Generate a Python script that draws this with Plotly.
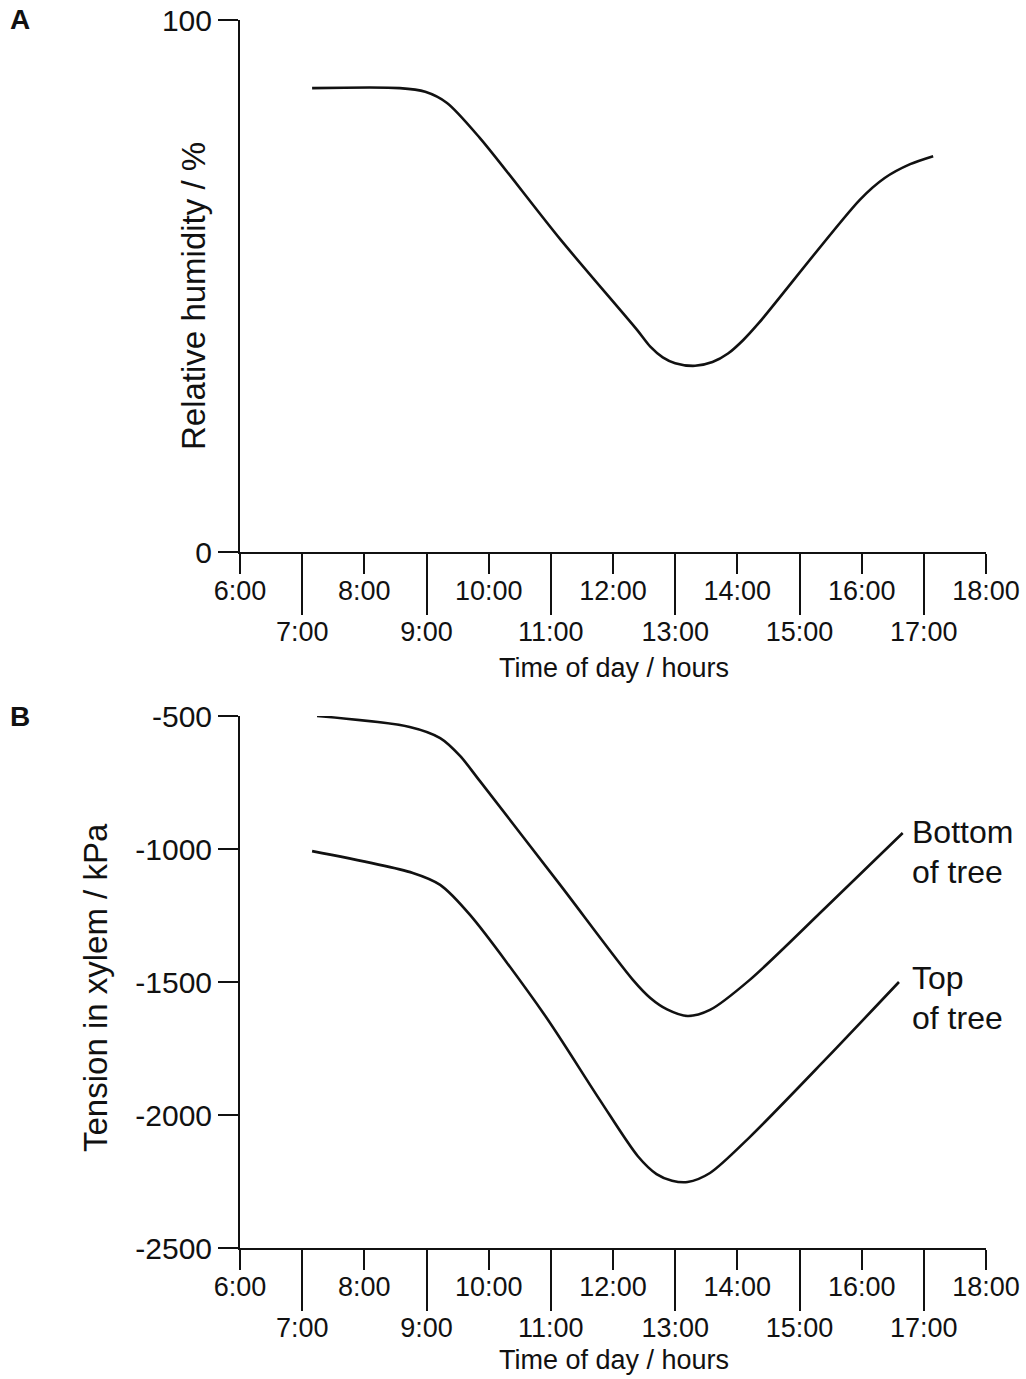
import plotly.graph_objects as go

W, H = 1026, 1379

# ---------- data ----------
hours_even = [6, 8, 10, 12, 14, 16, 18]
hours_odd = [7, 9, 11, 13, 15, 17]
labels_even = ["6:00", "8:00", "10:00", "12:00", "14:00", "16:00", "18:00"]
labels_odd = ["7:00", "9:00", "11:00", "13:00", "15:00", "17:00"]

rh_hours = [7.16, 8.57, 8.98, 9.33, 9.86, 11.15, 12.39, 12.6, 12.8, 13.0, 13.32,
            13.6, 13.85, 14.1, 14.35, 15.97, 16.37, 16.78, 17.15]
rh_values = [87.2, 87.2, 86.5, 84.4, 77.8, 58.8, 41.7, 38.6, 36.6, 35.5, 35.0,
             35.7, 37.3, 39.9, 43.1, 66.2, 70.3, 72.9, 74.4]

bottom_hours = [7.24, 8.73, 9.22, 9.54, 9.86, 11.15, 12.32, 12.6, 12.87, 13.2,
                13.56, 14.2, 15.43, 16.66]
bottom_kpa = [-500, -541, -583, -650, -745, -1135, -1492, -1560, -1603, -1628,
              -1605, -1492, -1218, -940]

top_hours = [7.16, 8.78, 9.22, 9.7, 10.9, 11.79, 12.4, 12.7, 12.95, 13.2,
             13.56, 14.2, 15.41, 16.6]
top_kpa = [-1008, -1090, -1135, -1248, -1624, -1944, -2155, -2222, -2247, -2252,
           -2218, -2083, -1793, -1500]

rh_ticks = [0, 100]
kpa_ticks = [-500, -1000, -1500, -2000, -2500]

# ---------- layout helpers ----------
FONT = "Liberation Sans, Arial, sans-serif"
BLACK = "#111111"

def px_x(x):
    return x / W

def px_y(y):
    return 1 - y / H

xdom = [px_x(240), px_x(986)]
ydomA = [px_y(552), px_y(20)]
ydomB = [px_y(1248), px_y(716)]

fig = go.Figure()

line = dict(color=BLACK, width=2.6, shape="spline", smoothing=0.8)
fig.add_trace(go.Scatter(x=rh_hours, y=rh_values, mode="lines", line=line,
                         xaxis="x", yaxis="y", showlegend=False))
fig.add_trace(go.Scatter(x=bottom_hours, y=bottom_kpa, mode="lines", line=line,
                         xaxis="x2", yaxis="y2", showlegend=False))
fig.add_trace(go.Scatter(x=top_hours, y=top_kpa, mode="lines", line=line,
                         xaxis="x2", yaxis="y2", showlegend=False))

xtick_font = dict(family=FONT, size=27, color=BLACK)
ytick_font = dict(family=FONT, size=30, color=BLACK)

def even_axis(anchor):
    return dict(domain=xdom, range=[6, 18], anchor=anchor, automargin=False,
                tickmode="array", tickvals=hours_even, ticktext=labels_even,
                ticks="outside", ticklen=20, tickwidth=2, tickcolor=BLACK,
                ticklabelstandoff=-6,
                showline=True, linewidth=2, linecolor=BLACK,
                showgrid=False, zeroline=False, tickfont=xtick_font,
                fixedrange=True)

def odd_axis(anchor, over):
    return dict(domain=xdom, range=[6, 18], anchor=anchor, overlaying=over,
                automargin=False,
                tickmode="array", tickvals=hours_odd, ticktext=labels_odd,
                ticks="outside", ticklen=62, tickwidth=2, tickcolor=BLACK,
                ticklabelstandoff=-6,
                showline=False, showgrid=False, zeroline=False,
                tickfont=xtick_font, fixedrange=True)

def y_axis(dom, rng, vals, anchor):
    return dict(domain=dom, range=rng, anchor=anchor, automargin=False,
                tickmode="array", tickvals=vals, ticktext=[str(v) for v in vals],
                ticks="outside", ticklen=20, tickwidth=2, tickcolor=BLACK,
                showline=True, linewidth=2, linecolor=BLACK,
                showgrid=False, zeroline=False, tickfont=ytick_font,
                fixedrange=True)

fig.update_layout(
    width=W, height=H,
    margin=dict(l=0, r=0, t=0, b=0, autoexpand=False),
    paper_bgcolor="white", plot_bgcolor="white",
    font=dict(family=FONT, color=BLACK),
    hovermode=False,
    xaxis=even_axis("y"),
    xaxis3=odd_axis("y", "x"),
    yaxis=y_axis(ydomA, [0, 100], rh_ticks, "x"),
    xaxis2=even_axis("y2"),
    xaxis4=odd_axis("y2", "x2"),
    yaxis2=y_axis(ydomB, [-2500, -500], kpa_ticks, "x2"),
)

# invisible traces so the overlay axes are drawn
fig.add_trace(go.Scatter(x=[6], y=[0], mode="markers", marker=dict(opacity=0),
                         xaxis="x3", yaxis="y", showlegend=False, hoverinfo="skip"))
fig.add_trace(go.Scatter(x=[6], y=[-2500], mode="markers", marker=dict(opacity=0),
                         xaxis="x4", yaxis="y2", showlegend=False, hoverinfo="skip"))

def ann(text, x, y, size, xanchor="center", yanchor="middle", angle=0, bold=False):
    fig.add_annotation(text=f"<b>{text}</b>" if bold else text,
                       x=px_x(x), y=px_y(y), xref="paper", yref="paper",
                       xanchor=xanchor, yanchor=yanchor, textangle=angle,
                       showarrow=False,
                       font=dict(family=FONT, size=size, color=BLACK))

ann("A", 8, 20, 28, xanchor="left", bold=True)
ann("B", 8, 716, 28, xanchor="left", bold=True)
ann("Relative humidity / %", 193, 296, 33, angle=-90)
ann("Tension in xylem / kPa", 95, 988, 33, angle=-90)
ann("Time of day / hours", 614, 668, 27)
ann("Time of day / hours", 614, 1360, 27)
ann("Bottom", 910, 832, 32, xanchor="left")
ann("of tree", 910, 872, 32, xanchor="left")
ann("Top", 910, 978, 32, xanchor="left")
ann("of tree", 910, 1018, 32, xanchor="left")

fig.write_html(
    "out.html",
    config={"displayModeBar": False, "staticPlot": True},
    post_script="document.documentElement.style.margin='0';"
                "document.body.style.margin='0';"
                "document.body.style.padding='0';"
                "document.body.style.overflow='hidden';",
)
